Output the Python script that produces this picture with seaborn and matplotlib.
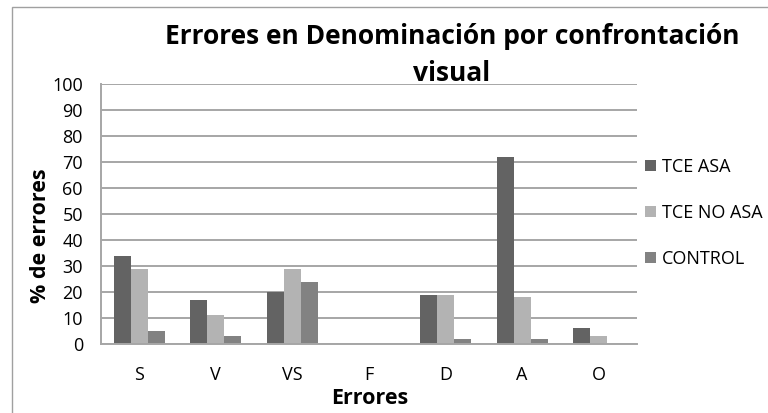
import matplotlib
matplotlib.use("Agg")
import matplotlib.pyplot as plt
import pandas as pd
import seaborn as sns
from matplotlib.patches import Rectangle

categories = ["S", "V", "VS", "F", "D", "A", "O"]
tce_asa = [34, 17, 20, 0, 19, 72, 6]
tce_no_asa = [29, 11, 29, 0, 19, 18, 3]
control = [5, 3, 24, 0, 2, 2, 0]
groups = ["TCE ASA", "TCE NO ASA", "CONTROL"]
colors = ["#636363", "#b3b3b3", "#828282"]


def main():
    rows = []
    for g, vals in zip(groups, [tce_asa, tce_no_asa, control]):
        for c, v in zip(categories, vals):
            rows.append({"Errores": c, "pct": v, "grupo": g})
    df = pd.DataFrame(rows)

    sns.set_style("white")
    plt.rcParams["font.family"] = ["Open Sans", "DejaVu Sans"]
    plt.rcParams["text.color"] = "black"
    plt.rcParams["xtick.color"] = "black"
    plt.rcParams["ytick.color"] = "black"

    fig = plt.figure(figsize=(7.68, 4.13), dpi=100)
    ax = fig.add_axes([101 / 768, 69 / 413, 536 / 768, 260 / 413])

    sns.barplot(data=df, x="Errores", y="pct", hue="grupo", order=categories,
                hue_order=groups, palette=colors, width=0.667, gap=0,
                linewidth=0, saturation=1, ax=ax)

    ax.set_ylim(0, 100)
    ax.set_yticks(range(0, 101, 10))
    ax.set_xlim(-0.5, len(categories) - 0.5)
    ax.yaxis.grid(True, color="#a6a6a6", linewidth=1.4)
    ax.set_axisbelow(True)
    for side in ["top", "right"]:
        ax.spines[side].set_visible(False)
    for side in ["left", "bottom"]:
        ax.spines[side].set_color("#a6a6a6")
        ax.spines[side].set_linewidth(1.4)
    ax.tick_params(axis="y", length=0, pad=13, labelsize=13)
    ax.tick_params(axis="x", length=0, pad=16, labelsize=13)
    ax.set_xlabel("")
    ax.set_ylabel("")

    fig.text(370 / 768, 1 - 398 / 413, "Errores", ha="center", va="center",
             fontsize=15.5, fontweight="bold")
    fig.text(41 / 768, 1 - 236 / 413, "% de errores", ha="center", va="center",
             rotation=90, fontsize=15.5, fontweight="bold")
    fig.text(452 / 768, 1 - 55 / 413,
             "Errores en Denominación por confrontación\nvisual",
             ha="center", va="center", fontsize=19, fontweight="bold",
             linespacing=1.5)

    ax.legend(loc="upper left", bbox_to_anchor=(645 / 768, 1 - 158 / 413),
              bbox_transform=fig.transFigure, frameon=False, borderpad=0,
              borderaxespad=0, handlelength=0.6, handleheight=0.6,
              handletextpad=0.35, labelspacing=1.55, fontsize=13)

    fig.patches.append(Rectangle((12 / 768, -0.1), 1.2, 1.1 - 7 / 413,
                                 transform=fig.transFigure, fill=False,
                                 edgecolor="#a0a0a0", linewidth=1))

    fig.savefig("out.png", dpi=100)


if __name__ == "__main__":
    main()
